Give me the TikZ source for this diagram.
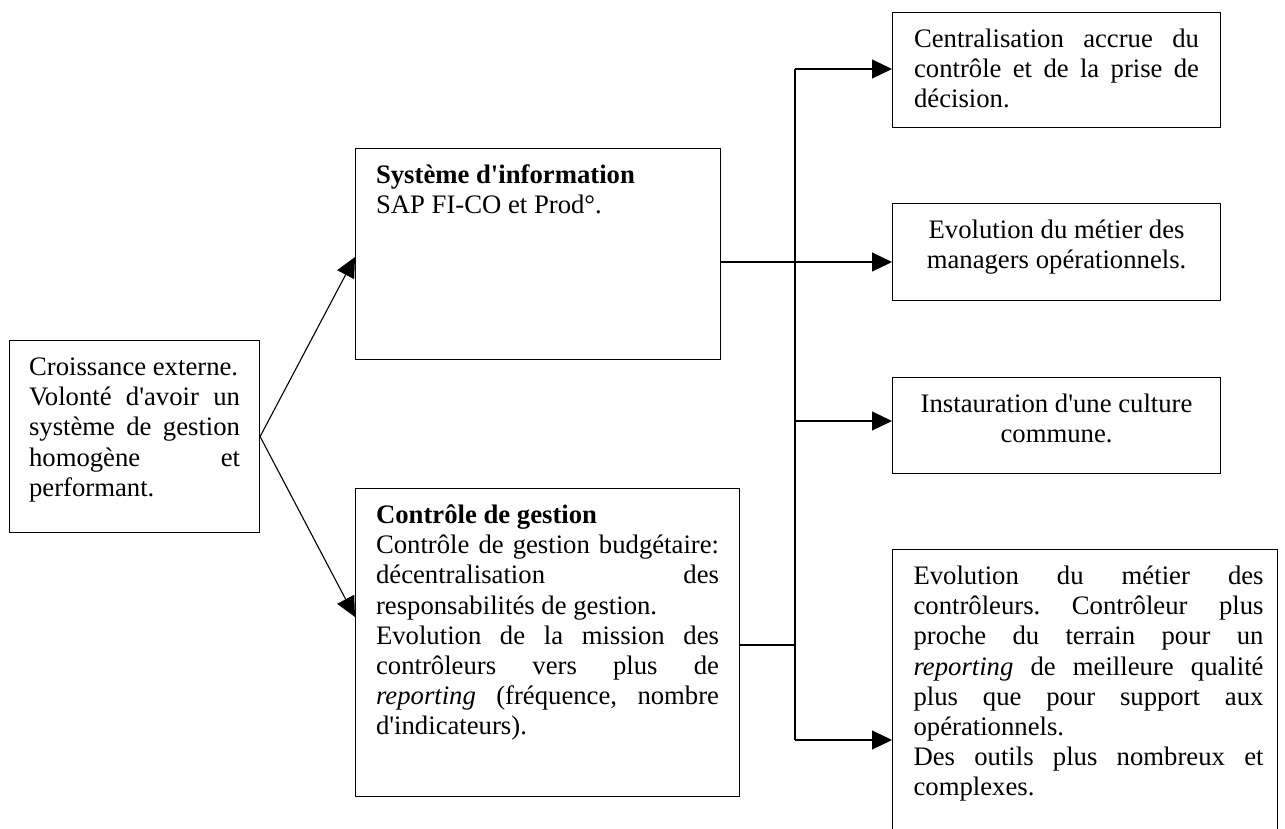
\documentclass[tikz,border=0pt]{standalone}
\usepackage{fontspec}
\setmainfont{Liberation Serif}[Ligatures=TeXOff]
\usetikzlibrary{arrows.meta}
\newcommand\dfont{\fontsize{26.7pt}{30.2pt}\selectfont\frenchspacing}
\newcommand\mystrut{\rule{0pt}{35pt}}
\newcommand\bt[3]{\parbox[t][#2][t]{#1}{\hbadness=10000\hyphenpenalty=10000\mystrut#3}}
\tikzset{
  box/.style={draw, line width=1.1pt, inner ysep=0pt, inner xsep=20.5pt, anchor=north west, font=\dfont},
  rbox/.style={box, inner xsep=21.5pt},
  conn/.style={line width=1.1pt},
  arr/.style={conn, -{Triangle[length=20pt,width=19pt]}}
}
\begin{document}
\begin{tikzpicture}[x=1pt,y=-1pt]
\path[use as bounding box] (0,0) rectangle (1285,828);
\fill[white] (0,0) rectangle (1285,828);
\clip (0,0) rectangle (1285,828);

\node[box, inner xsep=19.5pt] (croiss) at (9,340) {\bt{211pt}{192pt}{Croissance externe.\par Volonté d'avoir un\linebreak système de gestion\linebreak homogène et\linebreak performant.}};

\node[box] (si) at (355,148) {\bt{324pt}{211pt}{\textbf{Système d'information}\par SAP FI-CO et Prod°.}};

\node[box] (cg) at (355,488) {\bt{343pt}{308pt}{\textbf{Contrôle de gestion}\par Contrôle de gestion budgétaire:\linebreak décentralisation des\linebreak responsabilités de gestion.\par Evolution de la mission des\linebreak contrôleurs vers plus de\linebreak \textit{reporting} (fréquence, nombre\linebreak d'indicateurs).}};

\node[rbox] (centr) at (892,12) {\bt{285pt}{115pt}{Centralisation accrue du\linebreak contrôle et de la prise de\linebreak décision.}};

\node[rbox] (manag) at (892,203) {\bt{285pt}{97pt}{\centering Evolution du métier des\\ managers opérationnels.}};

\node[rbox] (cult) at (892,377) {\bt{285pt}{96pt}{\centering Instauration d'une culture\\ commune.}};

\node[box, inner xsep=14pt] (ctrl) at (892,549) {\bt{357pt}{300pt}{\leftskip=7pt Evolution du métier des\linebreak contrôleurs. Contrôleur plus\linebreak proche du terrain pour un\linebreak \textit{reporting} de meilleure qualité\linebreak plus que pour support aux\linebreak opérationnels.\par Des outils plus nombreux et\linebreak complexes.}};

% connection points
\coordinate (a1) at (355,257);
\coordinate (a2) at (355,617);
\coordinate (b1) at (795,69);
\coordinate (j2) at (795,262);
\coordinate (b3) at (795,421);
\coordinate (j5) at (795,645);
\coordinate (b4) at (795,740);

\draw[arr] (croiss.east) -- (si.west |- a1);
\draw[arr] (croiss.east) -- (cg.west |- a2);

\draw[conn] (b1) -- (b4);
\draw[arr] (b1) -- (b1 -| centr.west);
\draw[arr] (si.east |- j2) -- (j2 -| manag.west);
\draw[arr] (b3) -- (b3 -| cult.west);
\draw[arr] (b4) -- (b4 -| ctrl.west);
\draw[conn] (cg.east |- j5) -- (j5);
\end{tikzpicture}
\end{document}
